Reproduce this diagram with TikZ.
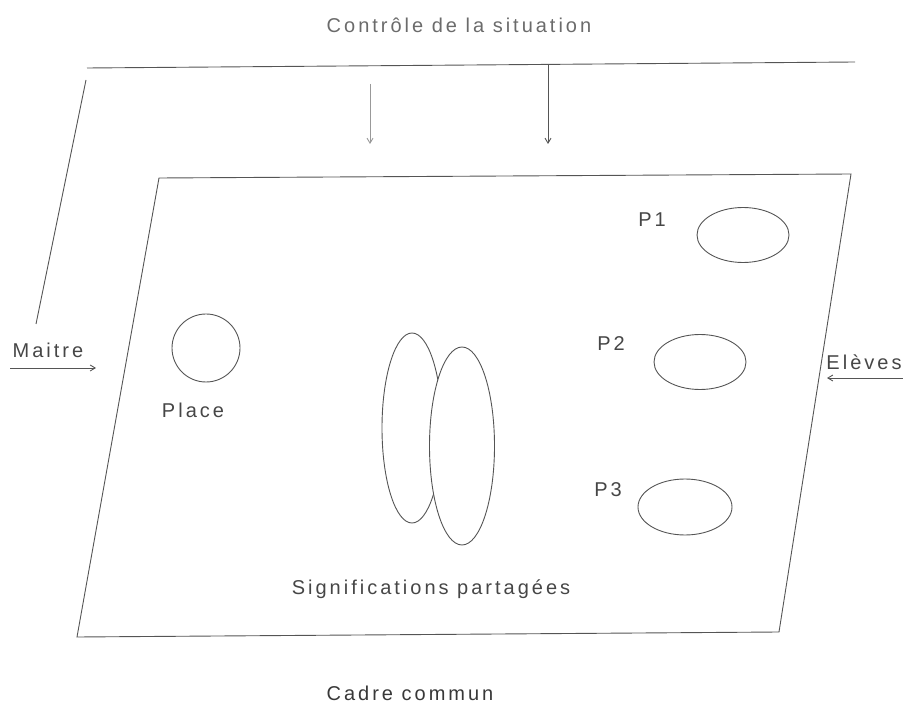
\documentclass[tikz,border=0pt]{standalone}
\usepackage{fontspec}
\setmainfont{Liberation Sans}[LetterSpace=15]
\usetikzlibrary{arrows.meta,shapes.geometric}
\definecolor{ink}{RGB}{85,85,85}
\definecolor{txt}{RGB}{70,70,70}
\tikzset{
  ln/.style={draw=ink,line width=0.9pt},
  arr/.style={ln,-{Straight Barb[length=5pt,width=6pt]}},
  lab/.style={text=txt,font=\fontsize{20}{22}\selectfont,inner sep=0pt},
  oval/.style={ln,ellipse,inner sep=0pt},
}
\begin{document}
\begin{tikzpicture}[x=1pt,y=-1pt]
\useasboundingbox (0,0) rectangle (903,703);
% title
\node[lab,text=txt!80] (title) at (459,25) {Contrôle de la situation};
% outer frame (control)
\coordinate (tl) at (87,68);
\coordinate (tr) at (855,62);
\coordinate (ls) at (86,80);
\coordinate (le) at (36,324);
\draw[ln] (tl) -- (tr);
\draw[ln] (ls) -- (le);
\coordinate (a1s) at (370,84);
\coordinate (a1e) at (370,144);
\coordinate (a2s) at (548,65);
\coordinate (a2e) at (548,144);
\draw[arr,draw=ink!60] (a1s) -- (a1e);
\draw[arr] (a2s) -- (a2e);
% common frame
\coordinate (p1) at (159,178);
\coordinate (p2) at (851,174);
\coordinate (p3) at (779,632);
\coordinate (p4) at (77,637);
\draw[ln] (p1) -- (p2) -- (p3) -- (p4) -- cycle;
% Maitre
\node[lab] (maitre) at (48,350) {Maitre};
\coordinate (m1) at (10,368);
\coordinate (m2) at (96,368);
\draw[arr] (m1) -- (m2);
% Eleves
\node[lab] (eleves) at (864,362) {Elèves};
\coordinate (e1) at (903,378);
\coordinate (e2) at (827,378);
\draw[arr] (e1) -- (e2);
% Place
\node[ln,circle,minimum size=68pt,inner sep=0pt] (place) at (206,348) {};
\node[lab] (placelab) at (193,410) {Place};
% P1..P3
\node[oval,minimum width=92pt,minimum height=55pt] (o1) at (743,235) {};
\node[lab] (l1) at (652,220) {P1};
\node[oval,minimum width=92pt,minimum height=55pt] (o2) at (700,362) {};
\node[lab] (l2) at (611,344) {P2};
\node[oval,minimum width=94pt,minimum height=56pt] (o3) at (685,507) {};
\node[lab] (l3) at (608,490) {P3};
% shared meanings
\node[oval,minimum width=60pt,minimum height=190pt] (s1) at (412,428) {};
\node[oval,fill=white,minimum width=65pt,minimum height=198pt] (s2) at (462,446) {};
\node[lab] (sig) at (431,589) {Significations partagées};
\node[lab,text=txt!80!black] (cadre) at (410,693) {Cadre commun};
\end{tikzpicture}
\end{document}
